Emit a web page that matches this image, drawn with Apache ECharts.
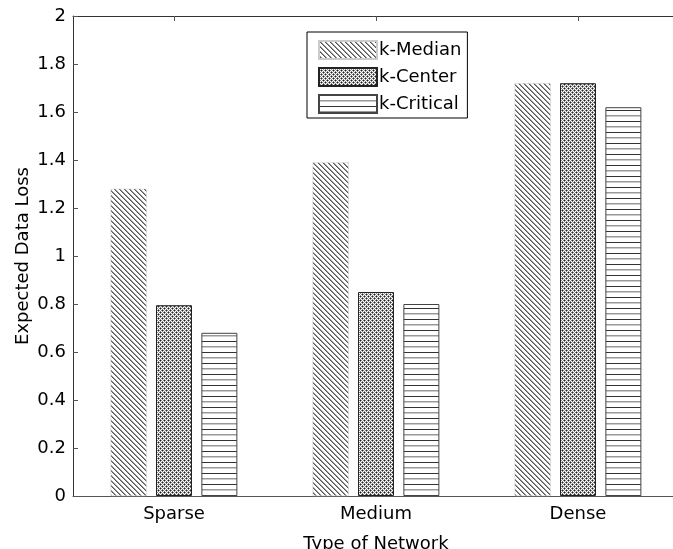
<!DOCTYPE html>
<html>
<head>
<meta charset="utf-8">
<script src="https://cdn.jsdelivr.net/npm/echarts@6/dist/echarts.min.js"></script>
<style>
  html, body { margin: 0; padding: 0; background: #fff; }
  #chart { width: 673px; height: 549px; }
</style>
</head>
<body>
<div id="chart"></div>
<script>
// Network types and expected data loss per placement strategy
const networkTypes = ['Sparse', 'Medium', 'Dense'];
const kMedian   = [1.28, 1.39, 1.72];
const kCenter   = [0.795, 0.85, 1.72];
const kCritical = [0.68, 0.80, 1.62];
const seriesNames = ['k-Median', 'k-Center', 'k-Critical'];

const FONT = 'DejaVu Sans';
const FS = 18;

// Small repeating tiles used as hatch fills (drawn pixel by pixel)
function makeTile(w, h, pixels) {
  const c = document.createElement('canvas');
  c.width = w; c.height = h;
  const ctx = c.getContext('2d');
  ctx.fillStyle = '#fff';
  ctx.fillRect(0, 0, w, h);
  pixels.forEach(function (p) {
    ctx.fillStyle = p[2];
    ctx.fillRect(p[0], p[1], 1, 1);
  });
  return c;
}

// Diagonal "\" hatch
const diagPixels = [];
for (let i = 0; i < 5; i++) {
  diagPixels.push([i, i, '#555']);
  diagPixels.push([(i + 1) % 5, i, '#999']);
}
const diagTile = makeTile(5, 5, diagPixels);

// Fine cross-hatch net
const crossTile = makeTile(4, 4, [
  [0, 0, '#222'], [2, 2, '#222'],
  [1, 0, '#888'], [3, 0, '#888'], [0, 1, '#888'], [0, 3, '#888'],
  [2, 1, '#888'], [2, 3, '#888'], [1, 2, '#888'], [3, 2, '#888']
]);

// Horizontal line hatch
const horizPixels = [];
for (let x = 0; x < 4; x++) {
  horizPixels.push([x, 0, '#333']);
  horizPixels.push([x, 5, '#999']);
  horizPixels.push([x, 6, '#ccc']);
}
const horizTile = makeTile(4, 11, horizPixels);

const chart = echarts.init(document.getElementById('chart'), null, { renderer: 'canvas' });

const option = {
  backgroundColor: '#fff',
  animation: false,
  textStyle: { fontFamily: FONT, color: '#000' },
  grid: { left: 73, top: 16, bottom: 53, width: 606, containLabel: false, outerBoundsMode: 'none' },
  legend: {
    orient: 'vertical',
    left: 307,
    top: 32,
    padding: [8, 6, 4, 11],
    itemGap: 7,
    itemWidth: 58,
    itemHeight: 18,
    icon: 'rect',
    itemStyle: { opacity: 1 },
    borderColor: '#000',
    borderWidth: 1,
    borderRadius: 0,
    backgroundColor: '#fff',
    textStyle: { fontFamily: FONT, fontSize: FS, color: '#000', lineHeight: 20, padding: [0, 0, 0, -3] },
    data: seriesNames
  },
  xAxis: [
    {
      type: 'category',
      data: networkTypes,
      position: 'bottom',
      name: 'Type of Network',
      nameLocation: 'middle',
      nameGap: 39,
      nameTextStyle: { fontFamily: FONT, fontSize: FS, color: '#000' },
      axisLine: { lineStyle: { color: '#555', width: 1 } },
      axisTick: { show: false },
      axisLabel: { fontFamily: FONT, fontSize: FS, color: '#000', margin: 9 }
    },
    {
      type: 'category',
      data: networkTypes,
      position: 'top',
      axisLine: { lineStyle: { color: '#333', width: 1 } },
      axisTick: { show: true, inside: true, length: 5, alignWithLabel: true, lineStyle: { color: '#555' } },
      axisLabel: { show: false }
    }
  ],
  yAxis: {
    type: 'value',
    min: 0,
    max: 2,
    interval: 0.2,
    name: 'Expected Data Loss',
    nameLocation: 'middle',
    nameGap: 41,
    nameMoveOverlap: false,
    nameTextStyle: { fontFamily: FONT, fontSize: FS, color: '#000' },
    axisLine: { show: true, lineStyle: { color: '#333', width: 1 } },
    axisTick: { show: true, inside: true, length: 5, lineStyle: { color: '#555' } },
    axisLabel: { fontFamily: FONT, fontSize: FS, color: '#000', margin: 7 },
    splitLine: { show: false }
  },
  series: [
    {
      name: seriesNames[0],
      type: 'bar',
      data: kMedian,
      barWidth: 36,
      barGap: '26%',
      itemStyle: { color: { image: diagTile, repeat: 'repeat' }, borderColor: '#ccc', borderWidth: 0.5 }
    },
    {
      name: seriesNames[1],
      type: 'bar',
      data: kCenter,
      barWidth: 36,
      barGap: '26%',
      itemStyle: { color: { image: crossTile, repeat: 'repeat' }, borderColor: '#222', borderWidth: 1 }
    },
    {
      name: seriesNames[2],
      type: 'bar',
      data: kCritical,
      barWidth: 36,
      barGap: '26%',
      itemStyle: { color: { image: horizTile, repeat: 'repeat' }, borderColor: '#444', borderWidth: 1 }
    }
  ]
};

chart.setOption(option);
</script>
</body>
</html>
